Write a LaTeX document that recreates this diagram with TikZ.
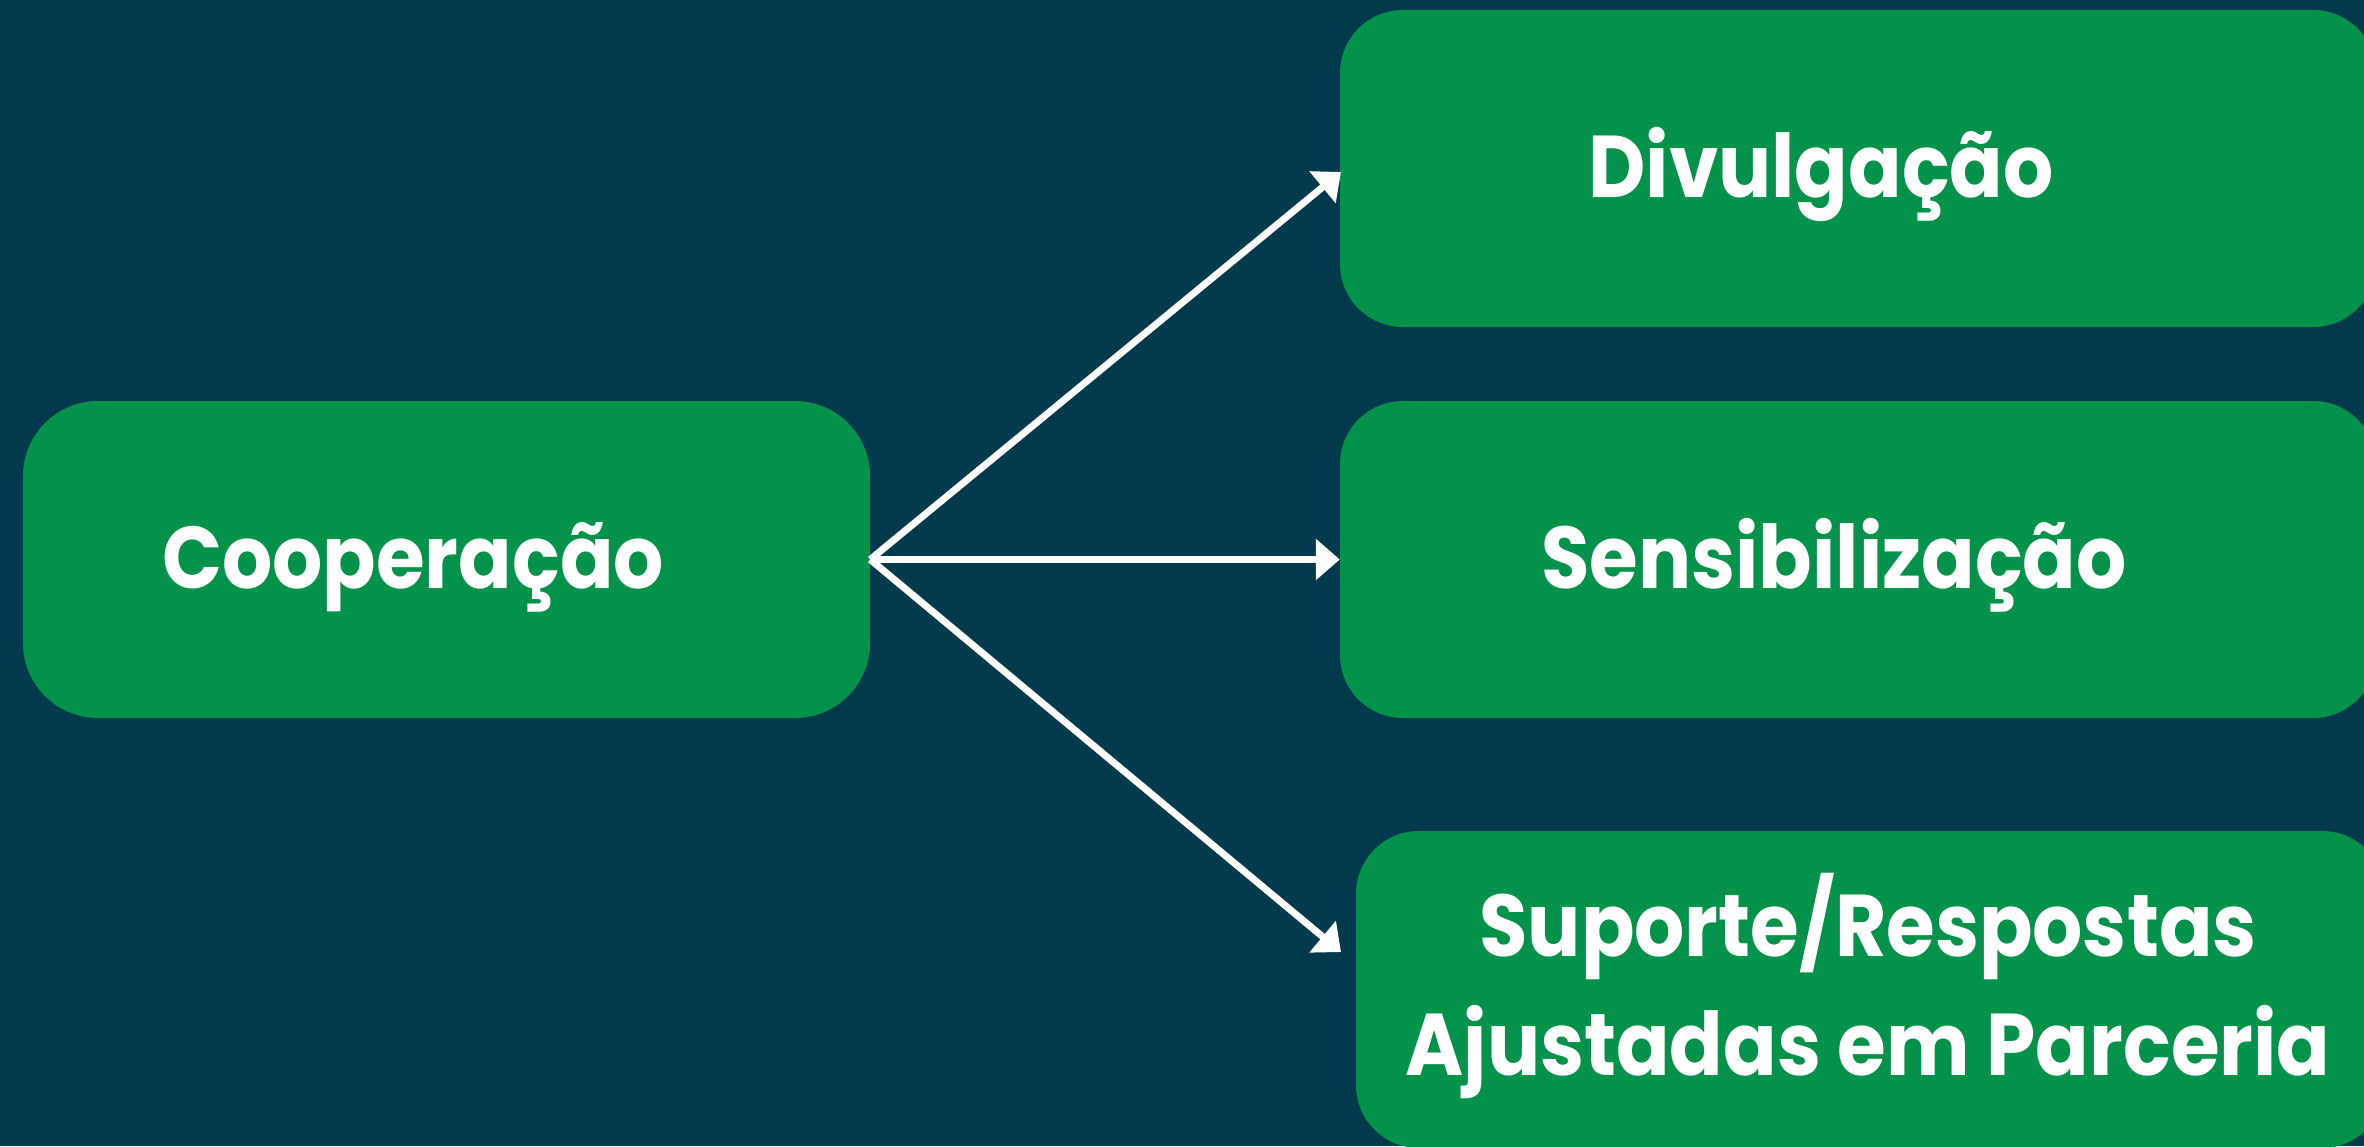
\documentclass[tikz,border=0pt]{standalone}
\usepackage{fontspec}
\setmainfont{Poppins}[FakeStretch=0.9]
\usetikzlibrary{arrows.meta}
\definecolor{bgteal}{RGB}{2,58,77}
\definecolor{boxgreen}{RGB}{3,146,73}
\begin{document}
\begin{tikzpicture}[x=1bp,y=-1bp,>={Triangle[length=24bp,width=40bp]},line join=bevel,
  box/.style={fill=boxgreen,draw=none,minimum height=317bp,inner sep=0pt},
  lbl/.style={text=white,font=\fontsize{88}{119}\selectfont\bfseries,align=center,inner sep=0pt,anchor=base}]
%%
\fill [bgteal] (0,0) rectangle (2364,1146);
\useasboundingbox (0,0) rectangle (2364,1146);
\node (node_coop) at (446.5,559.5) [box,minimum width=847bp,rounded corners=75bp] {};
  \node (node_div) at (1858.0,168.5) [box,minimum width=1036bp,rounded corners=63bp] {};
  \node (node_sens) at (1858.0,559.5) [box,minimum width=1036bp,rounded corners=63bp] {};
  \node (node_sup) at (1870.5,989.5) [box,minimum width=1029bp,rounded corners=63bp] {};
  \node (text_coop) at (413,588) [lbl] {Cooperação};
  \node (text_div) at (1821,197) [lbl] {Divulgação};
  \node (text_sens) at (1834,588) [lbl] {Sensibilização};
  \node (text_sup) at (1868,1075) [lbl] {Suporte/Respostas\\Ajustadas em Parceria};
  \coordinate (tip_div) at (1341,172);
  \coordinate (tip_sup) at (1341,952);
  \draw [white,line width=7bp,->] (node_coop.east) -- (tip_div);
  \draw [white,line width=7bp,->] (node_coop.east) -- (node_sens.west);
  \draw [white,line width=7bp,->] (node_coop.east) -- (tip_sup);
%
\end{tikzpicture}
\end{document}
